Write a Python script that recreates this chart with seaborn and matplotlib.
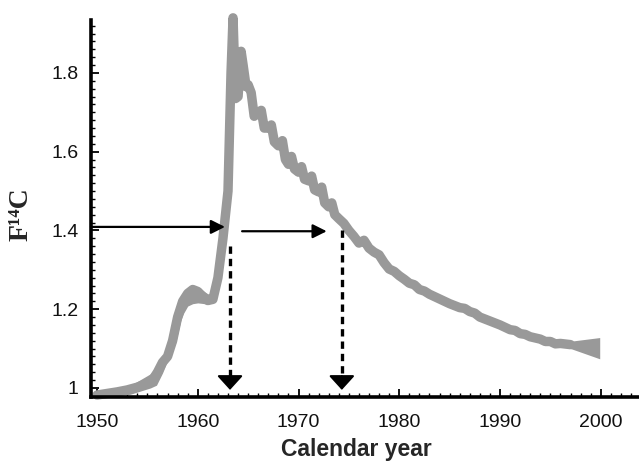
import matplotlib
matplotlib.use("Agg")
import matplotlib.pyplot as plt
import seaborn as sns
import numpy as np
import pandas as pd

# ---- data ----
years = [1950.0, 1951.0, 1952.0, 1953.0, 1954.0, 1955.0, 1955.5, 1956.0, 1956.5, 1957.0,
         1957.5, 1958.0, 1958.5, 1959.0, 1959.5, 1960.0, 1960.5, 1961.0, 1961.5, 1962.0,
         1962.5, 1963.0, 1963.3, 1963.5, 1963.75, 1964.0, 1964.3, 1964.5, 1964.8, 1965.0,
         1965.3, 1965.6, 1966.0, 1966.3, 1966.6, 1967.0, 1967.3, 1967.6, 1968.0, 1968.4,
         1968.7, 1969.0, 1969.3, 1969.6, 1970.0, 1970.3, 1970.6, 1971.0, 1971.3, 1971.6,
         1972.0, 1972.3, 1972.6, 1973.0, 1973.3, 1973.6, 1974.0, 1974.5, 1975.0, 1975.5,
         1976.0, 1976.5, 1977.0, 1977.5, 1978.0, 1978.5, 1979.0, 1979.5, 1980.0, 1980.5,
         1981.0, 1981.5, 1982.0, 1982.5, 1983.0, 1983.5, 1984.0, 1984.5, 1985.0, 1986.0,
         1986.5, 1987.0, 1987.5, 1988.0, 1989.0, 1990.0, 1991.0, 1991.5, 1992.0, 1992.5,
         1993.0, 1994.0, 1994.5, 1995.0, 1995.5, 1996.0, 1997.0]
f14c = [0.982, 0.986, 0.990, 0.995, 1.002, 1.012, 1.020, 1.040, 1.065, 1.080,
        1.120, 1.180, 1.220, 1.240, 1.250, 1.245, 1.232, 1.222, 1.225, 1.280,
        1.380, 1.500, 1.800, 1.940, 1.735, 1.740, 1.855, 1.820, 1.765, 1.770,
        1.750, 1.690, 1.700, 1.705, 1.660, 1.660, 1.668, 1.625, 1.615, 1.628,
        1.580, 1.568, 1.588, 1.556, 1.548, 1.562, 1.530, 1.526, 1.538, 1.503,
        1.498, 1.510, 1.470, 1.460, 1.470, 1.440, 1.430, 1.418, 1.400, 1.385,
        1.368, 1.375, 1.355, 1.345, 1.338, 1.318, 1.302, 1.296, 1.285, 1.276,
        1.266, 1.262, 1.250, 1.246, 1.238, 1.232, 1.226, 1.220, 1.214, 1.204,
        1.202, 1.194, 1.190, 1.180, 1.170, 1.160, 1.148, 1.146, 1.138, 1.136,
        1.130, 1.124, 1.118, 1.118, 1.112, 1.113, 1.110]

# pre-bomb uncertainty envelope (lower / upper edge of the grey band)
env_years = [1949.6, 1951.3, 1953.3, 1955.3, 1955.9, 1956.5, 1957.1, 1957.8, 1958.3,
             1958.6, 1959.0, 1959.5, 1960.0, 1961.0, 1961.5, 1962.0, 1962.3]
env_low = [0.977, 0.979, 0.984, 1.000, 1.007, 1.038, 1.075, 1.114, 1.170,
           1.190, 1.208, 1.214, 1.216, 1.213, 1.218, 1.265, 1.310]
env_high = [0.982, 0.990, 1.006, 1.036, 1.052, 1.076, 1.089, 1.135, 1.200,
            1.228, 1.241, 1.259, 1.256, 1.239, 1.241, 1.289, 1.330]

# widening uncertainty wedge at the end of the record
wedge_years = [1996.8, 1999.9]
wedge_low = [1.102, 1.074]
wedge_high = [1.118, 1.128]

# arrows: reading F14C = 1.41 to calendar years
arrow_f = 1.409
arrow2_f = 1.398
read_years = [1963.2, 1974.3]
arrow1_end = 1962.7
arrow2_start, arrow2_end = 1964.4, 1972.8
dash_start = [1.360, 1.400]

df = pd.DataFrame({"year": years, "f14c": f14c})

sns.set_style("ticks")
fig = plt.figure(figsize=(6.39, 4.65), dpi=100)
ax = fig.add_axes([91/639, 1-397/465, (639-91)/639, (397-20)/465])

grey = "#999999"
sns.lineplot(data=df, x="year", y="f14c", ax=ax, color=grey, lw=6.8,
             estimator=None, sort=False, solid_joinstyle="round",
             solid_capstyle="round", clip_on=False)
ax.fill_between(env_years, env_low, env_high, color=grey, lw=0)
ax.fill_between(wedge_years, wedge_low, wedge_high, color=grey, lw=0)

xmin, xmax = 1949.4, 2003.8
ax.set_xlim(xmin, xmax)
ax.set_ylim(0.977, 1.9345)

# solid horizontal arrows
ax.annotate("", xy=(arrow1_end, arrow_f), xytext=(xmin, arrow_f),
            arrowprops=dict(arrowstyle="-|>", color="black", lw=1.6,
                            mutation_scale=21, shrinkA=0, shrinkB=0))
ax.annotate("", xy=(arrow2_end, arrow2_f), xytext=(arrow2_start, arrow2_f),
            arrowprops=dict(arrowstyle="-|>", color="black", lw=1.6,
                            mutation_scale=21, shrinkA=0, shrinkB=0))
# dashed vertical arrows
for yr, ys in zip(read_years, dash_start):
    ax.plot([yr, yr], [ys, 1.03], color="black", lw=2.4,
            linestyle=(0, (2.2, 1.5)), solid_capstyle="butt")
    ax.annotate("", xy=(yr, 0.995), xytext=(yr, 1.03),
                arrowprops=dict(arrowstyle="-|>,head_length=0.55,head_width=0.5",
                                color="black", lw=1.5, mutation_scale=16,
                                shrinkA=0, shrinkB=0))

sns.despine(ax=ax)
for s in ["left", "bottom"]:
    ax.spines[s].set_linewidth(2.6)
    ax.spines[s].set_color("black")

ax.set_xticks([1950, 1960, 1970, 1980, 1990, 2000])
ax.set_xticks(np.arange(1950, 2004, 1), minor=True)
ax.set_yticks([1.0, 1.2, 1.4, 1.6, 1.8])
ax.set_yticklabels(["1", "1.2", "1.4", "1.6", "1.8"])
ax.set_yticks(np.arange(0.98, 1.93, 0.02), minor=True)
ax.tick_params(which="both", direction="in", color="black")
ax.tick_params(which="major", length=6, width=1.3)
ax.tick_params(which="minor", length=3.2, width=1.0)
ax.tick_params(axis="x", which="major", pad=12)
ax.tick_params(axis="y", which="major", pad=9)
for lab in ax.get_xticklabels() + ax.get_yticklabels():
    lab.set_fontfamily("Liberation Sans")
    lab.set_fontsize(14)
    lab.set_color("#111111")

ax.set_xlabel("Calendar year", fontfamily="Liberation Sans", fontweight="bold",
              fontsize=16.5)
ax.xaxis.set_label_coords((356.5-91)/548, -0.108)
ax.set_ylabel("F¹⁴C", family=["Liberation Serif", "DejaVu Serif"], fontweight="bold",
              fontsize=20)
ax.yaxis.set_label_coords(-0.104, 0.485)

fig.savefig("out.png", dpi=100)
